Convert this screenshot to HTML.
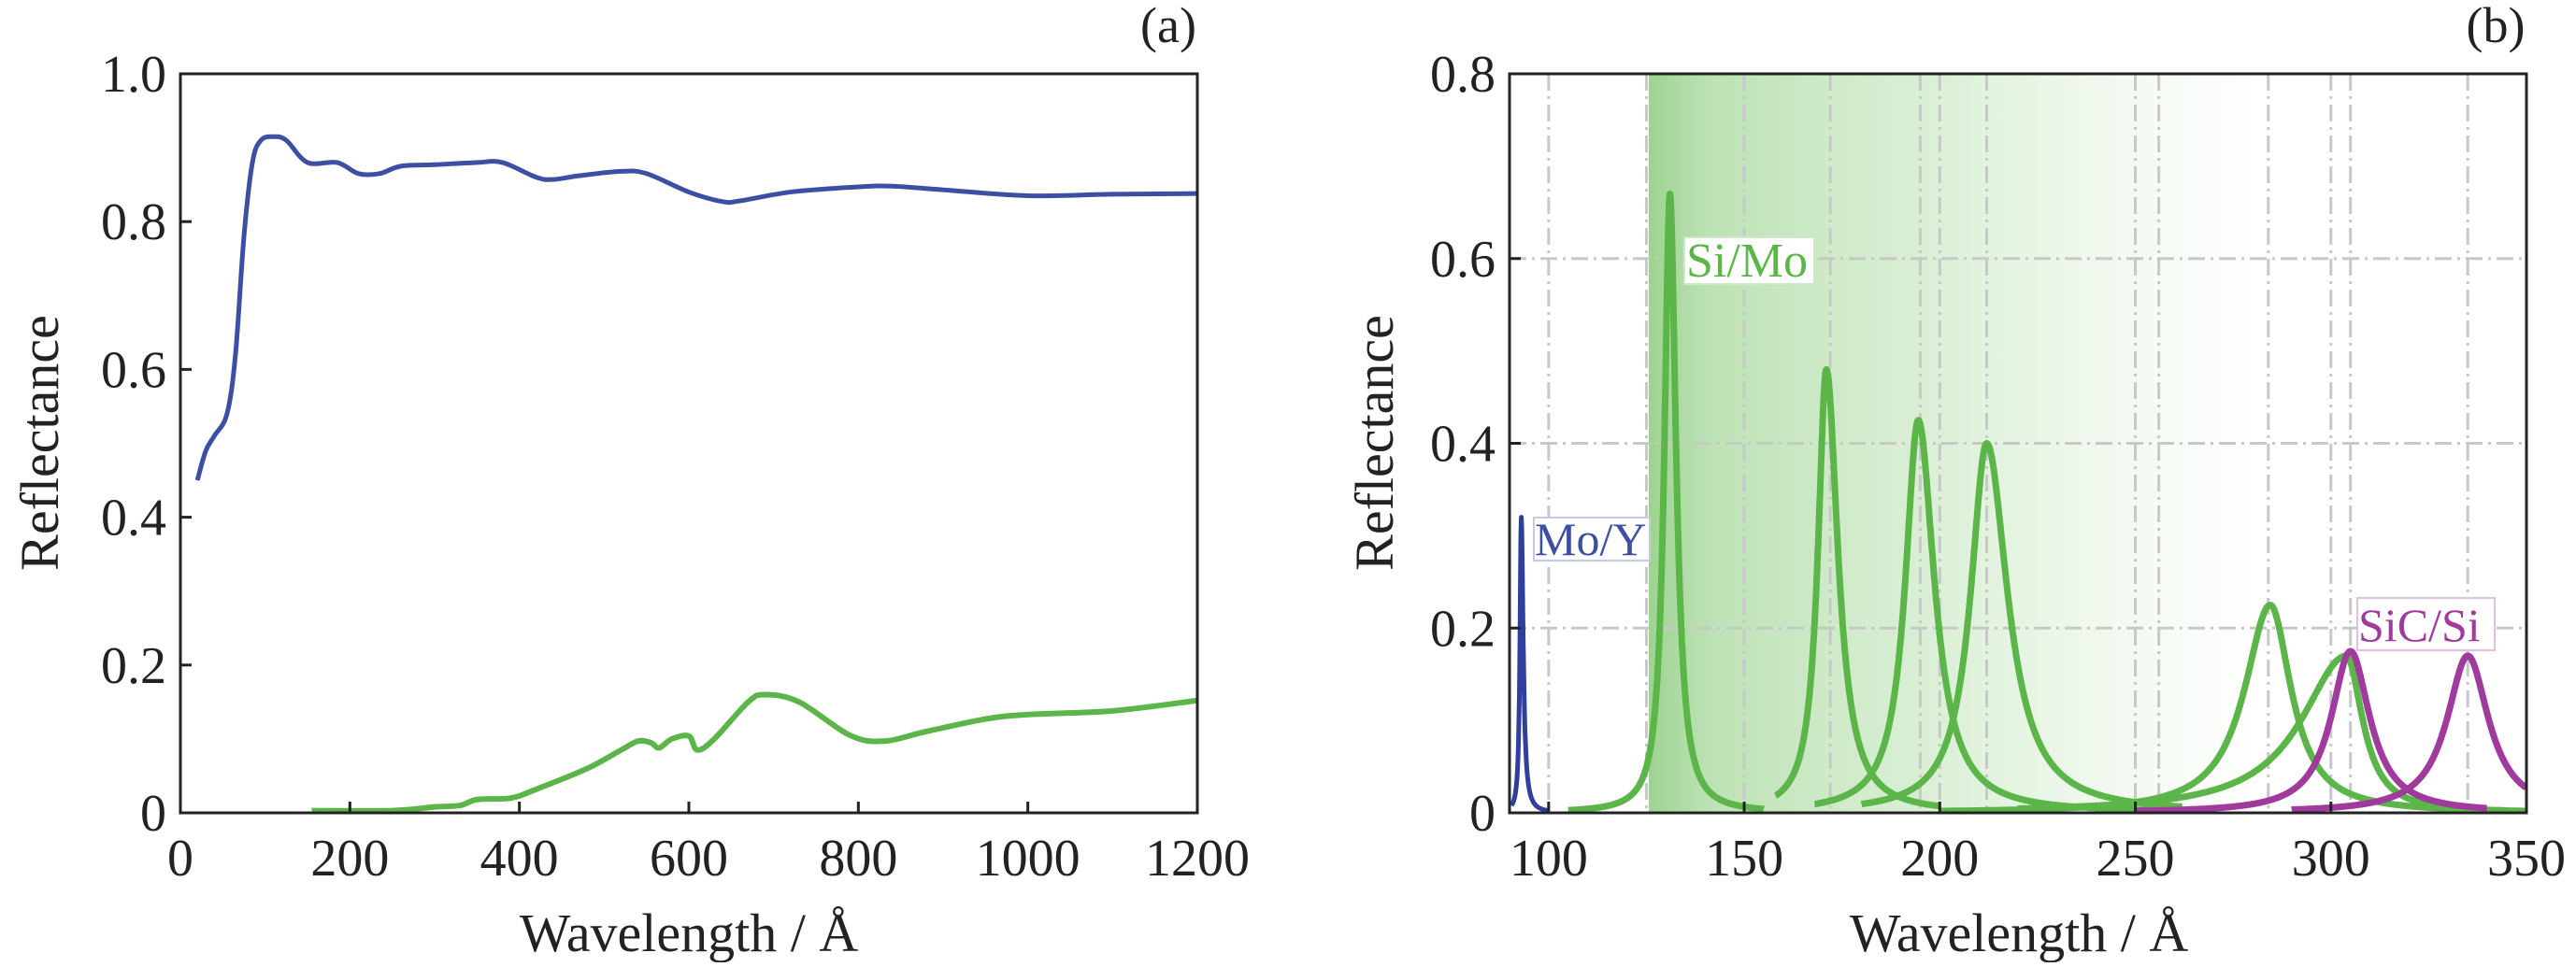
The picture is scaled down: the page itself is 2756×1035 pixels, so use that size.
<!DOCTYPE html>
<html><head><meta charset="utf-8"><style>
body{margin:0;background:#fff}
svg text{font-family:"Liberation Serif",serif;fill:#222}
</style></head><body>
<svg id="s" width="2756" height="1030" xmlns="http://www.w3.org/2000/svg">
<defs>
<linearGradient id="g" x1="0" x2="1" y1="0" y2="0">
<stop offset="0" stop-color="#5cb548" stop-opacity="0.6"/>
<stop offset="0.1" stop-color="#6cbf5a" stop-opacity="0.45"/>
<stop offset="0.5" stop-color="#8fcf80" stop-opacity="0.3"/>
<stop offset="1" stop-color="#b5dfaa" stop-opacity="0"/>
</linearGradient>
</defs>
<rect x="1764" y="79" width="660" height="791" fill="url(#g)"/>
<g id="grid" stroke="#c8c8c8" stroke-width="3" stroke-dasharray="18,6,3,6" fill="none"></g>
<g id="curves" fill="none" stroke-width="6" stroke-linejoin="round"></g>
<rect x="193" y="79" width="1088" height="791" fill="none" stroke="#222" stroke-width="3"/>
<rect x="1615" y="79" width="1088" height="791" fill="none" stroke="#222" stroke-width="3"/>
<g id="ticks" stroke="#222" stroke-width="3"></g>
<g id="labels" font-size="56"></g>
<text x="1250" y="45" font-size="54" text-anchor="middle">(a)</text>
<text x="2670" y="45" font-size="54" text-anchor="middle">(b)</text>
<text x="737" y="1018" font-size="58" text-anchor="middle">Wavelength / Å</text>
<text x="2160" y="1018" font-size="58" text-anchor="middle">Wavelength / Å</text>
<text transform="translate(62,474) rotate(-90)" font-size="58" text-anchor="middle">Reflectance</text>
<text transform="translate(1490,474) rotate(-90)" font-size="58" text-anchor="middle">Reflectance</text>
<rect x="1802" y="254" width="139" height="50" fill="#fff" stroke="#cfe9c8" stroke-width="2"/>
<text x="1804" y="296" font-size="52" style="fill:#5cb548">Si/Mo</text>
<rect x="1641" y="554" width="124" height="46" fill="#fff" stroke="#c5c9e3" stroke-width="2"/>
<text x="1642" y="594" font-size="50" style="fill:#3d4fa3">Mo/Y</text>
<rect x="2522" y="640" width="147" height="56" fill="#fff" stroke="#e0c2df" stroke-width="2"/>
<text x="2523" y="686" font-size="50" style="fill:#a03a9c">SiC/Si</text>
</svg>
<script>
const NS="http://www.w3.org/2000/svg";
function el(p,t,a){const e=document.createElementNS(NS,t);for(const k in a)e.setAttribute(k,a[k]);document.getElementById(p).appendChild(e);return e;}
const LX=x=>193+x/1200*1088, LY=y=>870-y/1.0*791;
const RX=x=>1615+(x-90)/260*1088, RY=y=>870-y/0.8*791;
[100,125,150,172,195,200,212,250,256,284,300,305,335].forEach(v=>el("grid","line",{x1:RX(v),x2:RX(v),y1:79,y2:870}));
[0.2,0.4,0.6].forEach(v=>el("grid","line",{x1:1615,x2:2703,y1:RY(v),y2:RY(v)}));
for(let v=0;v<=1200;v+=200){el("ticks","line",{x1:LX(v),x2:LX(v),y1:870,y2:858});const t=el("labels","text",{x:LX(v),y:937,"text-anchor":"middle"});t.textContent=v;}
for(let i=0;i<=5;i++){const v=i*0.2;el("ticks","line",{x1:193,x2:205,y1:LY(v),y2:LY(v)});const t=el("labels","text",{x:178,y:LY(v)+19,"text-anchor":"end"});t.textContent=i==0?"0":v.toFixed(1);}
for(let v=100;v<=350;v+=50){el("ticks","line",{x1:RX(v),x2:RX(v),y1:870,y2:858});const t=el("labels","text",{x:RX(v),y:937,"text-anchor":"middle"});t.textContent=v;}
for(let i=0;i<=4;i++){const v=i*0.2;el("ticks","line",{x1:1615,x2:1627,y1:RY(v),y2:RY(v)});const t=el("labels","text",{x:1600,y:RY(v)+19,"text-anchor":"end"});t.textContent=i==0?"0":v.toFixed(1);}
function smooth(pts,fx,fy){const P=pts.map(p=>[fx(p[0]),fy(p[1])]);let d="M"+P[0];for(let i=0;i<P.length-1;i++){const p0=P[i-1]||P[i],p1=P[i],p2=P[i+1],p3=P[i+2]||p2;const c1=[p1[0]+(p2[0]-p0[0])/6,p1[1]+(p2[1]-p0[1])/6],c2=[p2[0]-(p3[0]-p1[0])/6,p2[1]-(p3[1]-p1[1])/6];d+="C"+c1+" "+c2+" "+p2;}return d;}
const blue=[[20,0.45],[30,0.49],[40,0.51],[55,0.54],[65,0.62],[75,0.78],[85,0.88],[95,0.91],[110,0.915],[125,0.91],[150,0.88],[185,0.88],[210,0.865],[235,0.865],[260,0.875],[300,0.877],[350,0.88],[380,0.88],[420,0.86],[440,0.857],[470,0.862],[520,0.868],[550,0.865],[600,0.84],[640,0.827],[660,0.828],[720,0.84],[800,0.847],[840,0.848],[900,0.843],[1000,0.835],[1100,0.837],[1200,0.838]];
const green=[[155,0.003],[250,0.003],[300,0.008],[330,0.01],[350,0.018],[390,0.02],[420,0.032],[480,0.06],[520,0.085],[540,0.097],[555,0.095],[565,0.088],[580,0.1],[600,0.104],[610,0.085],[630,0.1],[670,0.15],[690,0.16],[730,0.15],[790,0.105],[830,0.097],[880,0.11],[950,0.127],[1000,0.133],[1100,0.138],[1200,0.152]];
el("curves","path",{d:smooth(blue,LX,LY),stroke:"#3d4fa3","stroke-width":5});
el("curves","path",{d:smooth(green,LX,LY),stroke:"#5cb548","stroke-width":6});
function lor(x0,A,wl,wr,a,b,col,sw){let d="";for(let x=a;x<=b;x+=0.1){const w=x<x0?wl:wr;let y=A/(1+Math.pow((x-x0)/w,2));d+=(d?"L":"M")+RX(x).toFixed(1)+","+RY(y).toFixed(1);}el("curves","path",{d:d,stroke:col,"stroke-width":sw||7});}
lor(93,0.32,0.4,0.6,90.5,100,"#2f3f9f",5);
lor(131,0.67,1.7,1.9,105,155,"#5cb548");
lor(171,0.48,2.6,3.6,158,200,"#5cb548");
lor(194.5,0.425,4,5,168,262,"#5cb548");
lor(212,0.40,5,6.5,180,262,"#5cb548");
lor(284.5,0.225,8,6.5,200,345,"#5cb548");
lor(304,0.17,14,5,220,350,"#5cb548");
lor(305,0.175,6,6,250,340,"#a03a9c");
lor(335,0.17,6.5,6.5,290,350,"#a03a9c");
</script>
</body></html>
